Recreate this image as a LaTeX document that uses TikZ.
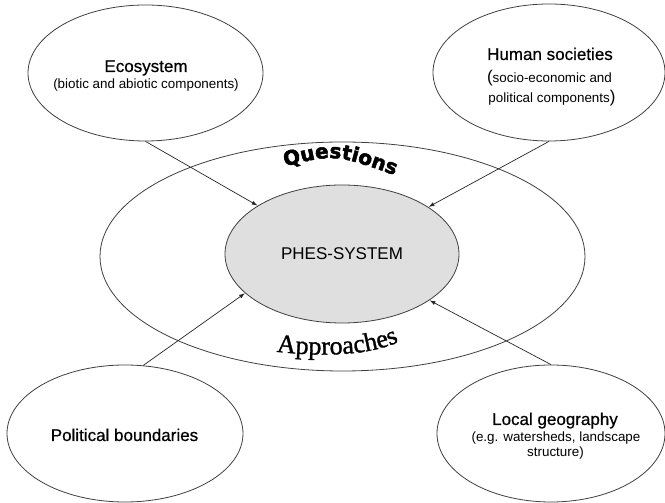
\documentclass[tikz,border=0pt]{standalone}
\usepackage{fontspec}
\setmainfont{Liberation Sans}
\newfontfamily\titlefont[FakeBold=0.6]{Liberation Sans}
\newfontfamily\qfont[FakeBold=2.5]{DejaVu Sans Bold}
\newfontfamily\apfont[FakeBold=1.2]{Liberation Serif}
\usetikzlibrary{shapes.geometric, arrows.meta, decorations.text}
\begin{document}
\begin{tikzpicture}[x=1pt,y=1pt,
  ell/.style={draw=black!75, line width=0.8pt, ellipse, inner sep=0pt, fill=white},
  conn/.style={draw=black!85, line width=0.7pt, -{Latex[length=6pt,width=4pt]}},
  ttl/.style={font=\titlefont\fontsize{17}{20}\selectfont, anchor=base, inner sep=0pt},
  sub/.style={font=\fontsize{13.4}{15}\selectfont, anchor=base, inner sep=0pt}]
\useasboundingbox (0,0) rectangle (665,503);
% ellipses
\node[ell, minimum width=485pt, minimum height=229pt] (outer) at (342.5,246.5) {};
\node[ell, fill=gray!25, minimum width=234pt, minimum height=138pt,
      font=\fontsize{17}{20}\selectfont] (phes) at (342,249) {PHES-SYSTEM};
\node[ell, minimum width=235pt, minimum height=136pt] (eco) at (145.5,430) {};
\node[ell, minimum width=232pt, minimum height=137pt] (hum) at (549,430.5) {};
\node[ell, minimum width=236pt, minimum height=137pt] (pol) at (125,69.5) {};
\node[ell, minimum width=228pt, minimum height=137pt] (loc) at (551,69.5) {};
% texts
\node[ttl] (ecot) at (146,431) {Ecosystem};
\node[sub] (ecos) at (146,414) {(biotic and abiotic components)};
\node[ttl] (humt) at (550,443) {Human societies};
\node[sub] (hums1) at (549.5,420) {{\fontsize{17}{17}\selectfont(}socio-economic and};
\node[sub] (hums2) at (552,400) {political components{\fontsize{17}{17}\selectfont)}};
\node[ttl] (polt) at (124.5,62) {Political boundaries};
\node[ttl] (loct) at (555,78) {Local geography};
\node[sub] (locs1) at (556,61) {(e.g. watersheds, landscape};
\node[sub] (locs2) at (555.5,46) {structure)};
% curved words
\path[decorate, decoration={text along path,
   text={|\qfont\fontsize{20}{20}\selectfont|Questions}, text align={center}}]
   (280,335) .. controls (334,349.5) .. (400,326);
\path[decorate, decoration={text along path,
   text={|\apfont\fontsize{26}{26}\selectfont|Approaches}, text align={center}}]
   (270,152) .. controls (320,146) and (370,146) .. (405,164);
% connectors
\draw[conn] (eco.south) -- (phes);
\draw[conn] (hum.south) -- (phes);
\draw[conn] (pol.75) -- (phes.202.8);
\draw[conn] (loc.north) -- (phes);
\end{tikzpicture}
\end{document}
